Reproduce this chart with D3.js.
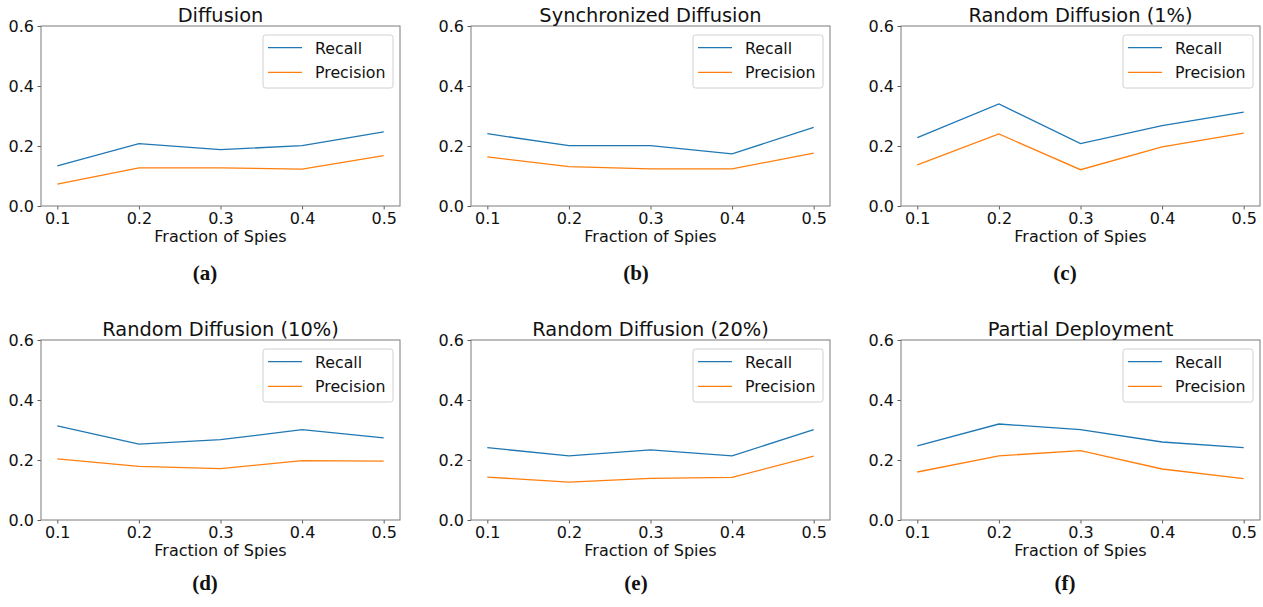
<!DOCTYPE html>
<html>
<head>
<meta charset="utf-8">
<script src="https://cdn.jsdelivr.net/npm/d3@7"></script>
<style>
  html, body { margin: 0; padding: 0; background: #fff; }
  svg { display: block; }
</style>
</head>
<body>
<svg id="chart" width="1263" height="607"></svg>
<script>
// ---- data ----
const fractions = [0.1, 0.2, 0.3, 0.4, 0.5];
const yTicks = [0.0, 0.2, 0.4, 0.6];
const xTicks = [0.1, 0.2, 0.3, 0.4, 0.5];
const titles = ["Diffusion", "Synchronized Diffusion", "Random Diffusion (1%)",
                "Random Diffusion (10%)", "Random Diffusion (20%)", "Partial Deployment"];
const subLabels = ["(a)", "(b)", "(c)", "(d)", "(e)", "(f)"];
const seriesNames = ["Recall", "Precision"];
const recallA = [0.134, 0.208, 0.188, 0.201, 0.247];
const precisionA = [0.073, 0.127, 0.127, 0.123, 0.168];
const recallB = [0.241, 0.201, 0.201, 0.174, 0.262];
const precisionB = [0.164, 0.131, 0.124, 0.124, 0.176];
const recallC = [0.228, 0.340, 0.208, 0.268, 0.313];
const precisionC = [0.137, 0.240, 0.121, 0.197, 0.243];
const recallD = [0.314, 0.253, 0.268, 0.301, 0.274];
const precisionD = [0.204, 0.179, 0.171, 0.198, 0.196];
const recallE = [0.241, 0.214, 0.234, 0.214, 0.301];
const precisionE = [0.143, 0.126, 0.139, 0.142, 0.213];
const recallF = [0.247, 0.320, 0.301, 0.260, 0.241];
const precisionF = [0.160, 0.214, 0.231, 0.170, 0.138];

const recalls = [recallA, recallB, recallC, recallD, recallE, recallF];
const precisions = [precisionA, precisionB, precisionC, precisionD, precisionE, precisionF];
const colors = ["#1f77b4", "#ff7f0e"];

// ---- layout ----
const boxLeft = [41, 471, 901];
const boxTop = [26, 340];
const boxW = 359, boxH = 180;
const subCenter = [205, 636, 1065];
const subBaseline = [280, 590];
const FONT = "'DejaVu Sans', sans-serif";
const TXT = "#111";

const svg = d3.select("#chart");

for (let i = 0; i < 6; i++) {
  const col = i % 3, row = Math.floor(i / 3);
  const g = svg.append("g").attr("transform", `translate(${boxLeft[col]},${boxTop[row]})`);

  const x = d3.scaleLinear().domain([0.08, 0.52]).range([0, boxW]);
  const y = d3.scaleLinear().domain([0, 0.6]).range([boxH, 0]);

  const xAxis = d3.axisBottom(x).tickValues(xTicks).tickFormat(d3.format(".1f")).tickSizeOuter(0).tickSize(3.5).tickPadding(3.5);
  const yAxis = d3.axisLeft(y).tickValues(yTicks).tickFormat(d3.format(".1f")).tickSizeOuter(0).tickSize(3.5).tickPadding(3.5);

  const gx = g.append("g").attr("transform", `translate(0,${boxH})`).call(xAxis);
  const gy = g.append("g").call(yAxis);
  [gx, gy].forEach(a => {
    a.attr("font-size", null).attr("font-family", null);
    a.select(".domain").remove();
    a.selectAll(".tick line").attr("stroke", "#333").attr("stroke-width", 0.8);
    a.selectAll(".tick text").style("font-size", "16px").style("font-family", FONT).attr("fill", TXT);
  });

  // frame
  g.append("rect").attr("x", 0).attr("y", 0).attr("width", boxW).attr("height", boxH)
    .attr("fill", "none").attr("stroke", "#7a7a7a").attr("stroke-width", 1);

  // lines
  const line = d3.line().x((d, k) => x(fractions[k])).y(d => y(d));
  [recalls[i], precisions[i]].forEach((s, si) => {
    g.append("path").datum(s).attr("d", line).attr("fill", "none")
      .attr("stroke", colors[si]).attr("stroke-width", 1.3);
  });

  // title
  g.append("text").attr("x", boxW / 2).attr("y", -4).attr("text-anchor", "middle")
    .style("font-family", FONT).style("font-size", "19.4px").attr("fill", TXT).text(titles[i]);

  // x label
  g.append("text").attr("x", boxW / 2).attr("y", boxH + 36).attr("text-anchor", "middle")
    .style("font-family", FONT).style("font-size", "16px").attr("fill", TXT).text("Fraction of Spies");

  // legend
  const lg = g.append("g").attr("transform", `translate(${boxW - 137},9)`);
  lg.append("rect").attr("width", 130).attr("height", 53).attr("rx", 2.5)
    .attr("fill", "#fff").attr("fill-opacity", 0.8).attr("stroke", "#d0d0d0").attr("stroke-width", 1);
  seriesNames.forEach((nm, si) => {
    const ly = 12.7 + si * 24.6;
    lg.append("line").attr("x1", 5).attr("x2", 39).attr("y1", ly).attr("y2", ly)
      .attr("stroke", colors[si]).attr("stroke-width", 1.3);
    lg.append("text").attr("x", 52).attr("y", ly + 5.8)
      .style("font-family", FONT).style("font-size", "15.8px").attr("fill", TXT).text(nm);
  });

  // sub label
  svg.append("text").attr("x", subCenter[col]).attr("y", subBaseline[row])
    .attr("text-anchor", "middle")
    .style("font-family", "'Liberation Serif', serif").style("font-weight", "bold")
    .style("font-size", "21px").attr("fill", "#111").text(subLabels[i]);
}
</script>
</body>
</html>
